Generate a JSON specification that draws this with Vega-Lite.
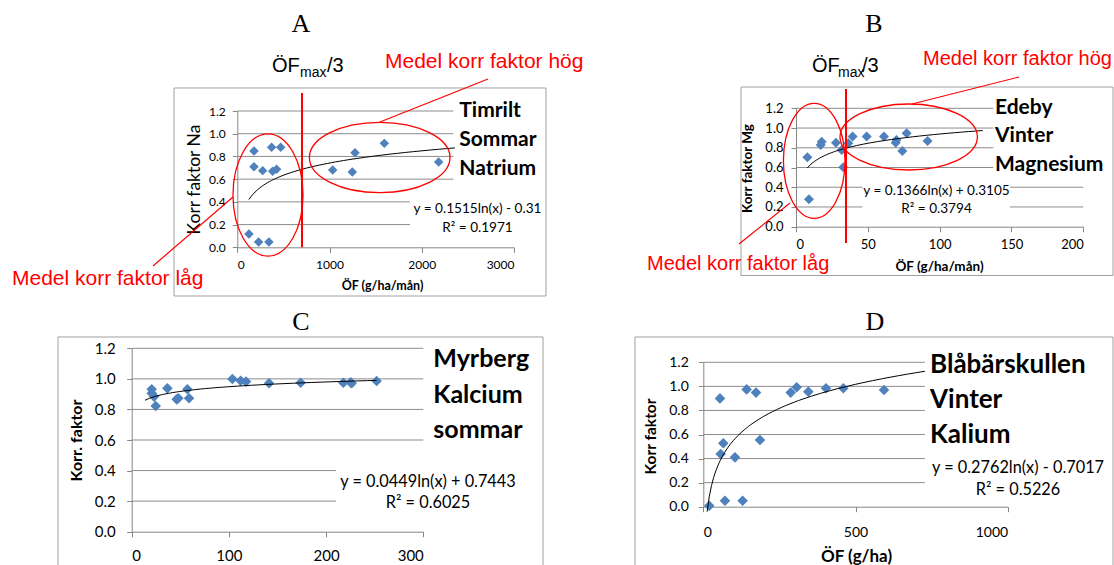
{
"$schema":"https://vega.github.io/schema/vega-lite/v6.json",
"width":1114,"height":565,"autosize":"none","padding":0,"background":"#ffffff",
"config":{"view":{"stroke":null},"axis":{"grid":false,"domainColor":"#868686","tickColor":"#868686","labelColor":"#000000","titleColor":"#000000","labelFont":"Lato","titleFont":"Lato","tickSize":5,"domainWidth":1,"tickWidth":1}},
"datasets":{
"A":[{"x":181,"y":0.848},{"x":181,"y":0.71},{"x":275,"y":0.675},{"x":372,"y":0.88},{"x":470,"y":0.88},{"x":383,"y":0.67},{"x":426,"y":0.687},{"x":126,"y":0.117},{"x":231,"y":0.047},{"x":343,"y":0.047},{"x":1034,"y":0.68},{"x":1276,"y":0.833},{"x":1247,"y":0.663},{"x":1594,"y":0.915},{"x":2183,"y":0.751}],
"B":[{"x":7.9,"y":0.703},{"x":9.0,"y":0.277},{"x":17.2,"y":0.828},{"x":17.9,"y":0.862},{"x":27.8,"y":0.852},{"x":31.8,"y":0.777},{"x":32.9,"y":0.602},{"x":36.4,"y":0.845},{"x":39.4,"y":0.913},{"x":49.2,"y":0.913},{"x":61.2,"y":0.913},{"x":69.4,"y":0.852},{"x":69.9,"y":0.879},{"x":74.0,"y":0.767},{"x":77.0,"y":0.946},{"x":91.6,"y":0.869}],
"C":[{"x":20.6,"y":0.932},{"x":20.6,"y":0.906},{"x":23.0,"y":0.884},{"x":24.7,"y":0.823},{"x":36.7,"y":0.938},{"x":46.3,"y":0.866},{"x":48.0,"y":0.873},{"x":57.3,"y":0.932},{"x":59.0,"y":0.873},{"x":103.6,"y":0.999},{"x":112.1,"y":0.988},{"x":117.6,"y":0.982},{"x":141.3,"y":0.971},{"x":173.8,"y":0.975},{"x":217.7,"y":0.975},{"x":225.3,"y":0.977},{"x":226.3,"y":0.971},{"x":252.0,"y":0.986}],
"D":[{"x":19.7,"y":0.008},{"x":54.8,"y":0.90},{"x":57.0,"y":0.438},{"x":65.7,"y":0.527},{"x":71.2,"y":0.05},{"x":104.1,"y":0.41},{"x":129.2,"y":0.05},{"x":142.4,"y":0.975},{"x":173.1,"y":0.948},{"x":186.2,"y":0.554},{"x":287.0,"y":0.948},{"x":306.7,"y":0.992},{"x":345.0,"y":0.956},{"x":403.1,"y":0.984},{"x":460.0,"y":0.984},{"x":593.6,"y":0.970}]
},
"resolve":{"scale":{"x":"independent","y":"independent"},"axis":{"x":"independent","y":"independent"}},
"layer":[
{"layer":[
 {"data":{"values":[{}]},"mark":{"type":"rect","filled":false,"stroke":"#a0a0a0","strokeWidth":1},"encoding":{"x":{"datum":-686.3,"type":"quantitative"},"x2":{"datum":3347},"y":{"datum":1.4026,"type":"quantitative"},"y2":{"datum":-0.4288}}},
 {"data":{"values":[{"g":0.6},{"g":0.8},{"g":1.0},{"g":1.2}]},"mark":{"type":"rule","color":"#8c8c8c","strokeWidth":1},"encoding":{"y":{"field":"g","type":"quantitative"},"x":{"datum":0,"type":"quantitative"},"x2":{"datum":2342}}},
 {"data":{"values":[{"g":0.2},{"g":0.4}]},"mark":{"type":"rule","color":"#8c8c8c","strokeWidth":1},"encoding":{"y":{"field":"g","type":"quantitative"},"x":{"datum":0,"type":"quantitative"},"x2":{"datum":1872}}},
 {"data":{"name":"A"},"mark":{"type":"point","shape":"diamond","filled":true,"color":"#4f81bd","size":90,"opacity":1},"encoding":{
   "x":{"field":"x","type":"quantitative","scale":{"domain":[0,3000],"range":[237.3,514],"nice":false,"zero":false},"axis":{"orient":"bottom","offset":-317.7,"values":[0,1000,2000,3000],"format":"d","labelFontSize":12,"labelPadding":7,"title":"ÖF (g/ha/mån)","titleFontSize":12.5,"titleFontWeight":"bold","titleX":382,"titleY":42,"titleBaseline":"alphabetic"}},
   "y":{"field":"y","type":"quantitative","scale":{"domain":[0,1.2],"range":[247.3,111],"nice":false,"zero":false},"axis":{"orient":"left","offset":-237.3,"values":[0,0.2,0.4,0.6,0.8,1,1.2],"format":".1f","labelFontSize":12,"labelPadding":7,"title":"Korr faktor Na","titleFontSize":17.5,"titleFontWeight":"normal","titleX":-38.3,"titleY":179,"titleBaseline":"alphabetic"}}}},
 {"data":{"name":"A"},"transform":[{"regression":"y","on":"x","method":"log","extent":[126,2360]}],"mark":{"type":"line","color":"#000000","strokeWidth":1},"encoding":{"x":{"field":"x","type":"quantitative"},"y":{"field":"y","type":"quantitative"}}},
 {"data":{"values":[{}]},"mark":{"type":"rule","color":"#ff0000","strokeWidth":2},"encoding":{"x":{"datum":701.5,"type":"quantitative"},"y":{"datum":1.3585,"type":"quantitative"},"y2":{"datum":0}}},
 {"data":{"values":[{}]},"mark":{"type":"point","shape":"M -0.5719 0 C -0.5719 -0.5523 -0.3159 -1 0 -1 C 0.3159 -1 0.5719 -0.5523 0.5719 0 C 0.5719 0.5523 0.3159 1 0 1 C -0.3159 1 -0.5719 0.5523 -0.5719 0 Z","size":14982,"filled":false,"stroke":"#ff0000","strokeWidth":1.3,"opacity":1},"encoding":{"x":{"datum":332.8,"type":"quantitative"},"y":{"datum":0.4605,"type":"quantitative"}}},
 {"data":{"values":[{}]},"mark":{"type":"point","shape":"M -1 0 C -1 -0.2765 -0.5523 -0.5007 0 -0.5007 C 0.5523 -0.5007 1 -0.2765 1 0 C 1 0.2765 0.5523 0.5007 0 0.5007 C -0.5523 0.5007 -1 0.2765 -1 0 Z","size":19768,"filled":false,"stroke":"#ff0000","strokeWidth":1.3,"opacity":1},"encoding":{"x":{"datum":1543.9,"type":"quantitative"},"y":{"datum":0.7906,"type":"quantitative"}}},
 {"data":{"values":[{}]},"mark":{"type":"rule","color":"#ff0000","strokeWidth":1.2},"encoding":{"x":{"datum":1547.2,"type":"quantitative"},"y":{"datum":1.1032,"type":"quantitative"},"x2":{"datum":2718},"y2":{"datum":1.4818}}},
 {"data":{"values":[{}]},"mark":{"type":"rule","color":"#ff0000","strokeWidth":1.2},"encoding":{"x":{"datum":-46.6,"type":"quantitative"},"y":{"datum":0.4429,"type":"quantitative"},"x2":{"datum":-914},"y2":{"datum":-0.1646}}},
 {"data":{"values":[{}]},"mark":{"type":"text","text":"A","font":"Liberation Serif","fontSize":26,"align":"center","baseline":"alphabetic","color":"#000000"},"encoding":{"x":{"datum":690.6,"type":"quantitative"},"y":{"datum":1.8956,"type":"quantitative"}}},
 {"data":{"values":[{}]},"mark":{"type":"text","text":"ÖF","font":"Liberation Sans","fontSize":20,"align":"left","baseline":"alphabetic","color":"#000000"},"encoding":{"x":{"datum":376.2,"type":"quantitative"},"y":{"datum":1.5434,"type":"quantitative"}}},
 {"data":{"values":[{}]},"mark":{"type":"text","text":"max","font":"Liberation Sans","fontSize":14,"align":"left","baseline":"alphabetic","color":"#000000"},"encoding":{"x":{"datum":679.8,"type":"quantitative"},"y":{"datum":1.4994,"type":"quantitative"}}},
 {"data":{"values":[{}]},"mark":{"type":"text","text":"/3","font":"Liberation Sans","fontSize":20,"align":"left","baseline":"alphabetic","color":"#000000"},"encoding":{"x":{"datum":972.5,"type":"quantitative"},"y":{"datum":1.5434,"type":"quantitative"}}},
 {"data":{"values":[{}]},"mark":{"type":"text","text":"Medel korr faktor hög","font":"Liberation Sans","fontSize":21,"align":"left","baseline":"alphabetic","color":"#ff0000"},"encoding":{"x":{"datum":1601.4,"type":"quantitative"},"y":{"datum":1.5786,"type":"quantitative"}}},
 {"data":{"values":[{}]},"mark":{"type":"text","text":"Medel korr faktor låg","font":"Liberation Sans","fontSize":21,"align":"left","baseline":"alphabetic","color":"#ff0000"},"encoding":{"x":{"datum":-2442.7,"type":"quantitative"},"y":{"datum":-0.3319,"type":"quantitative"}}},
 {"data":{"values":[{}]},"mark":{"type":"text","text":["Timrilt","Sommar","Natrium"],"font":"Lato","fontSize":21,"fontWeight":"bold","lineHeight":29.2,"align":"left","baseline":"alphabetic","color":"#000000"},"encoding":{"x":{"datum":2407,"type":"quantitative"},"y":{"datum":1.1499,"type":"quantitative"}}},
 {"data":{"values":[{}]},"mark":{"type":"text","text":["y = 0.1515ln(x) - 0.31","R² = 0.1971"],"font":"Lato","fontSize":13.6,"lineHeight":18.3,"align":"center","baseline":"alphabetic","color":"#000000"},"encoding":{"x":{"datum":2604.2,"type":"quantitative"},"y":{"datum":0.2994,"type":"quantitative"}}}
]},
{"layer":[
 {"data":{"values":[{}]},"mark":{"type":"rect","filled":false,"stroke":"#a0a0a0","strokeWidth":1},"encoding":{"x":{"datum":-38.29,"type":"quantitative"},"x2":{"datum":220.67},"y":{"datum":1.4158,"type":"quantitative"},"y2":{"datum":-0.4946}}},
 {"data":{"values":[{"g":0.6},{"g":0.8},{"g":1.0},{"g":1.2}]},"mark":{"type":"rule","color":"#8c8c8c","strokeWidth":1},"encoding":{"y":{"field":"g","type":"quantitative"},"x":{"datum":0,"type":"quantitative"},"x2":{"datum":137.4}}},
 {"data":{"values":[{"g":0.2},{"g":0.4}]},"mark":{"type":"rule","color":"#8c8c8c","strokeWidth":1},"encoding":{"y":{"field":"g","type":"quantitative"},"x":{"datum":0,"type":"quantitative"},"x2":{"datum":46.2}}},
 {"data":{"values":[{"g":0.2},{"g":0.4}]},"mark":{"type":"rule","color":"#8c8c8c","strokeWidth":1},"encoding":{"y":{"field":"g","type":"quantitative"},"x":{"datum":149,"type":"quantitative"},"x2":{"datum":200}}},
 {"data":{"name":"B"},"mark":{"type":"point","shape":"diamond","filled":true,"color":"#4f81bd","size":100,"opacity":1},"encoding":{
   "x":{"field":"x","type":"quantitative","scale":{"domain":[0,200],"range":[796,1083.3],"nice":false,"zero":false},"axis":{"orient":"bottom","offset":-338.3,"values":[0,50,100,150,200],"format":"d","labelFontSize":13,"labelPadding":7,"title":"ÖF (g/ha/mån)","titleFontSize":13.5,"titleFontWeight":"bold","titleX":939,"titleY":43.3,"titleBaseline":"alphabetic"}},
   "y":{"field":"y","type":"quantitative","scale":{"domain":[0,1.2],"range":[226.7,108.3],"nice":false,"zero":false},"axis":{"orient":"left","offset":-796,"values":[0,0.2,0.4,0.6,0.8,1,1.2],"format":".1f","labelFontSize":13,"labelPadding":8,"title":"Korr faktor Mg","titleFontSize":13.5,"titleFontWeight":"bold","titleX":-44.5,"titleY":168,"titleBaseline":"alphabetic"}}}},
 {"data":{"name":"B"},"transform":[{"regression":"y","on":"x","method":"log","extent":[7.9,130]}],"mark":{"type":"line","color":"#000000","strokeWidth":1},"encoding":{"x":{"field":"x","type":"quantitative"},"y":{"field":"y","type":"quantitative"}}},
 {"data":{"values":[{}]},"mark":{"type":"rule","color":"#ff0000","strokeWidth":2},"encoding":{"x":{"datum":34.8,"type":"quantitative"},"y":{"datum":1.3956,"type":"quantitative"},"y2":{"datum":-0.1652}}},
 {"data":{"values":[{}]},"mark":{"type":"point","shape":"M -0.5357 0 C -0.5357 -0.5523 -0.2959 -1 0 -1 C 0.2959 -1 0.5357 -0.5523 0.5357 0 C 0.5357 0.5523 0.2959 1 0 1 C -0.2959 1 -0.5357 0.5523 -0.5357 0 Z","size":13225,"filled":false,"stroke":"#ff0000","strokeWidth":1.3,"opacity":1},"encoding":{"x":{"datum":12.67,"type":"quantitative"},"y":{"datum":0.6679,"type":"quantitative"}}},
 {"data":{"values":[{}]},"mark":{"type":"point","shape":"M -1 0 C -1 -0.2653 -0.5523 -0.4803 0 -0.4803 C 0.5523 -0.4803 1 -0.2653 1 0 C 1 0.2653 0.5523 0.4803 0 0.4803 C -0.5523 0.4803 -1 0.2653 -1 0 Z","size":18879,"filled":false,"stroke":"#ff0000","strokeWidth":1.3,"opacity":1},"encoding":{"x":{"datum":78.45,"type":"quantitative"},"y":{"datum":0.9091,"type":"quantitative"}}},
 {"data":{"values":[{}]},"mark":{"type":"rule","color":"#ff0000","strokeWidth":1.2},"encoding":{"x":{"datum":80.75,"type":"quantitative"},"y":{"datum":1.2435,"type":"quantitative"},"x2":{"datum":155.24},"y2":{"datum":1.5172}}},
 {"data":{"values":[{}]},"mark":{"type":"rule","color":"#ff0000","strokeWidth":1.2},"encoding":{"x":{"datum":-4.18,"type":"quantitative"},"y":{"datum":0.2402,"type":"quantitative"},"x2":{"datum":-39.68},"y2":{"datum":-0.1753}}},
 {"data":{"values":[{}]},"mark":{"type":"text","text":"B","font":"Liberation Serif","fontSize":26,"align":"center","baseline":"alphabetic","color":"#000000"},"encoding":{"x":{"datum":54.3,"type":"quantitative"},"y":{"datum":1.9732,"type":"quantitative"}}},
 {"data":{"values":[{}]},"mark":{"type":"text","text":"ÖF","font":"Liberation Sans","fontSize":20,"align":"left","baseline":"alphabetic","color":"#000000"},"encoding":{"x":{"datum":11.14,"type":"quantitative"},"y":{"datum":1.5678,"type":"quantitative"}}},
 {"data":{"values":[{}]},"mark":{"type":"text","text":"max","font":"Liberation Sans","fontSize":14,"align":"left","baseline":"alphabetic","color":"#000000"},"encoding":{"x":{"datum":29.24,"type":"quantitative"},"y":{"datum":1.5172,"type":"quantitative"}}},
 {"data":{"values":[{}]},"mark":{"type":"text","text":"/3","font":"Liberation Sans","fontSize":20,"align":"left","baseline":"alphabetic","color":"#000000"},"encoding":{"x":{"datum":45.94,"type":"quantitative"},"y":{"datum":1.5678,"type":"quantitative"}}},
 {"data":{"values":[{}]},"mark":{"type":"text","text":"Medel korr faktor hög","font":"Liberation Sans","fontSize":20,"align":"left","baseline":"alphabetic","color":"#ff0000"},"encoding":{"x":{"datum":88.4,"type":"quantitative"},"y":{"datum":1.6388,"type":"quantitative"}}},
 {"data":{"values":[{}]},"mark":{"type":"text","text":"Medel korr faktor låg","font":"Liberation Sans","fontSize":20,"align":"left","baseline":"alphabetic","color":"#ff0000"},"encoding":{"x":{"datum":-103.72,"type":"quantitative"},"y":{"datum":-0.4388,"type":"quantitative"}}},
 {"data":{"values":[{}]},"mark":{"type":"text","text":["Edeby","Vinter","Magnesium"],"font":"Lato","fontSize":21,"fontWeight":"bold","lineHeight":28.2,"align":"left","baseline":"alphabetic","color":"#000000"},"encoding":{"x":{"datum":138.53,"type":"quantitative"},"y":{"datum":1.1391,"type":"quantitative"}}},
 {"data":{"values":[{}]},"mark":{"type":"text","text":["y = 0.1366ln(x) + 0.3105","R² = 0.3794"],"font":"Lato","fontSize":13.6,"lineHeight":18.3,"align":"center","baseline":"alphabetic","color":"#000000"},"encoding":{"x":{"datum":97.81,"type":"quantitative"},"y":{"datum":0.3213,"type":"quantitative"}}}
]},
{"layer":[
 {"data":{"values":[{}]},"mark":{"type":"rect","filled":false,"stroke":"#a0a0a0","strokeWidth":1},"encoding":{"x":{"datum":-75.82,"type":"quantitative"},"x2":{"datum":423.15},"y":{"datum":1.274,"type":"quantitative"},"y2":{"datum":-0.447}}},
 {"data":{"values":[{"g":0.6},{"g":0.8},{"g":1.0},{"g":1.2}]},"mark":{"type":"rule","color":"#8c8c8c","strokeWidth":1},"encoding":{"y":{"field":"g","type":"quantitative"},"x":{"datum":0,"type":"quantitative"},"x2":{"datum":300}}},
 {"data":{"values":[{"g":0.2},{"g":0.4}]},"mark":{"type":"rule","color":"#8c8c8c","strokeWidth":1},"encoding":{"y":{"field":"g","type":"quantitative"},"x":{"datum":0,"type":"quantitative"},"x2":{"datum":210.2}}},
 {"data":{"name":"C"},"mark":{"type":"point","shape":"diamond","filled":true,"color":"#4f81bd","size":112,"opacity":1},"encoding":{
   "x":{"field":"x","type":"quantitative","scale":{"domain":[0,300],"range":[131.7,423.3],"nice":false,"zero":false},"axis":{"orient":"bottom","offset":-33.3,"values":[0,100,200,300],"format":"d","labelFontSize":15,"labelPadding":12,"title":null}},
   "y":{"field":"y","type":"quantitative","scale":{"domain":[0,1.2],"range":[531.7,348.3],"nice":false,"zero":false},"axis":{"orient":"left","offset":-131.7,"values":[0,0.2,0.4,0.6,0.8,1,1.2],"format":".1f","labelFontSize":15,"labelPadding":11.5,"title":"Korr. faktor","titleFontSize":16,"titleFontWeight":"bold","titleX":-50.2,"titleY":440,"titleBaseline":"alphabetic"}}}},
 {"data":{"name":"C"},"transform":[{"regression":"y","on":"x","method":"log","extent":[13.7,252]}],"mark":{"type":"line","color":"#000000","strokeWidth":1},"encoding":{"x":{"field":"x","type":"quantitative"},"y":{"field":"y","type":"quantitative"}}},
 {"data":{"values":[{}]},"mark":{"type":"text","text":"C","font":"Liberation Serif","fontSize":26,"align":"center","baseline":"alphabetic","color":"#000000"},"encoding":{"x":{"datum":174.2,"type":"quantitative"},"y":{"datum":1.3198,"type":"quantitative"}}},
 {"data":{"values":[{}]},"mark":{"type":"text","text":["Myrberg","Kalcium","sommar"],"font":"Lato","fontSize":25,"fontWeight":"bold","lineHeight":35.5,"align":"left","baseline":"alphabetic","color":"#000000"},"encoding":{"x":{"datum":310.29,"type":"quantitative"},"y":{"datum":1.0757,"type":"quantitative"}}},
 {"data":{"values":[{}]},"mark":{"type":"text","text":["y = 0.0449ln(x) + 0.7443","R² = 0.6025"],"font":"Lato","fontSize":16.3,"lineHeight":21.5,"align":"center","baseline":"alphabetic","color":"#000000"},"encoding":{"x":{"datum":304.84,"type":"quantitative"},"y":{"datum":0.2944,"type":"quantitative"}}}
]},
{"layer":[
 {"data":{"values":[{}]},"mark":{"type":"rect","filled":false,"stroke":"#a0a0a0","strokeWidth":1},"encoding":{"x":{"datum":-224.4,"type":"quantitative"},"x2":{"datum":1345.9},"y":{"datum":1.4103,"type":"quantitative"},"y2":{"datum":-0.7754}}},
 {"data":{"values":[{"g":0.2},{"g":0.4},{"g":0.6},{"g":0.8},{"g":1.0},{"g":1.2}]},"mark":{"type":"rule","color":"#8c8c8c","strokeWidth":1},"encoding":{"y":{"field":"g","type":"quantitative"},"x":{"datum":0,"type":"quantitative"},"x2":{"datum":728}}},
 {"data":{"name":"D"},"mark":{"type":"point","shape":"diamond","filled":true,"color":"#4f81bd","size":112,"opacity":1},"encoding":{
   "x":{"field":"x","type":"quantitative","scale":{"domain":[0,1000],"range":[703.3,1007.7],"nice":false,"zero":false},"axis":{"orient":"bottom","offset":-58.3,"values":[0,500,1000],"format":"d","labelFontSize":14,"labelPadding":14,"title":"ÖF (g/ha)","titleFontSize":17,"titleFontWeight":"bold","titleX":856,"titleY":54.3,"titleBaseline":"alphabetic"}},
   "y":{"field":"y","type":"quantitative","scale":{"domain":[0,1.2],"range":[506.7,362.3],"nice":false,"zero":false},"axis":{"orient":"left","offset":-703.3,"values":[0,0.2,0.4,0.6,0.8,1,1.2],"format":".1f","labelFontSize":14,"labelPadding":10,"title":"Korr faktor","titleFontSize":15.5,"titleFontWeight":"bold","titleX":-48.3,"titleY":436,"titleBaseline":"alphabetic"}}}},
 {"data":{"name":"D"},"transform":[{"regression":"y","on":"x","method":"log","extent":[12.7,728]}],"mark":{"type":"line","color":"#000000","strokeWidth":1},"encoding":{"x":{"field":"x","type":"quantitative"},"y":{"field":"y","type":"quantitative"}}},
 {"data":{"values":[{}]},"mark":{"type":"text","text":"D","font":"Liberation Serif","fontSize":26,"align":"center","baseline":"alphabetic","color":"#000000"},"encoding":{"x":{"datum":564.1,"type":"quantitative"},"y":{"datum":1.4685,"type":"quantitative"}}},
 {"data":{"values":[{}]},"mark":{"type":"text","text":["Blåbärskullen","Vinter","Kalium"],"font":"Lato","fontSize":26,"fontWeight":"bold","lineHeight":35,"align":"left","baseline":"alphabetic","color":"#000000"},"encoding":{"x":{"datum":744.8,"type":"quantitative"},"y":{"datum":1.1086,"type":"quantitative"}}},
 {"data":{"values":[{}]},"mark":{"type":"text","text":["y = 0.2762ln(x) - 0.7017","R² = 0.5226"],"font":"Lato","fontSize":16.3,"lineHeight":21.7,"align":"center","baseline":"alphabetic","color":"#000000"},"encoding":{"x":{"datum":1033.9,"type":"quantitative"},"y":{"datum":0.2776,"type":"quantitative"}}}
]}
]
}
